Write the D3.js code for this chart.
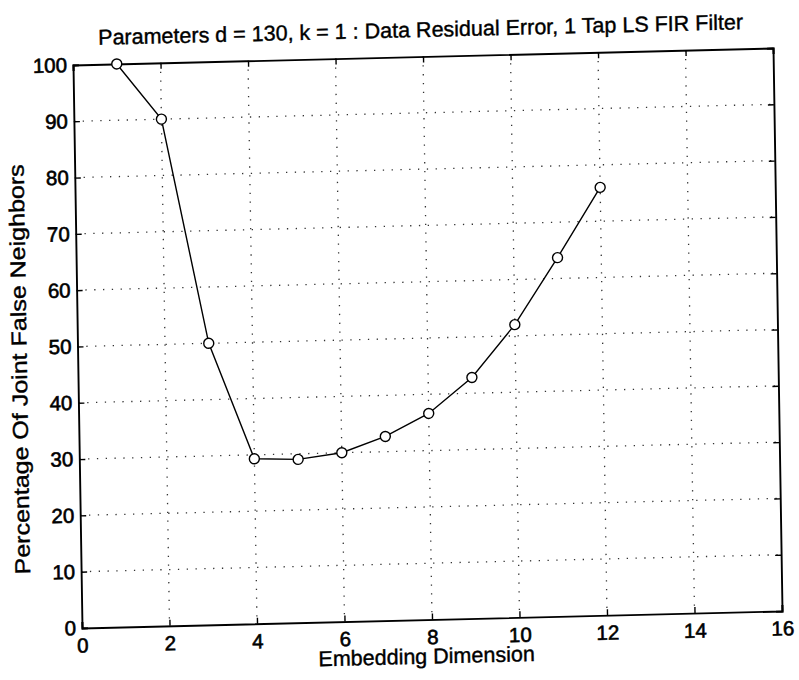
<!DOCTYPE html>
<html>
<head>
<meta charset="utf-8">
<script src="https://cdn.jsdelivr.net/npm/d3@7"></script>
<style>
  body { margin: 0; background: #fff; }
  text { font-family: "Liberation Sans", Arial, sans-serif; fill: #000; }
</style>
</head>
<body>
<div id="chart"></div>
<script>
// data
var dims = [1, 2, 3, 4, 5, 6, 7, 8, 9, 10, 11, 12];
var falseNeighbors = [100, 90, 50, 29.3, 29, 30, 32.7, 36.6, 42.8, 52, 63.7, 76];
var xTicks = [0, 2, 4, 6, 8, 10, 12, 14, 16];
var yTicks = [0, 10, 20, 30, 40, 50, 60, 70, 80, 90, 100];

var titleText = "Parameters d = 130, k = 1 : Data Residual Error, 1 Tap LS FIR Filter";
var xLabel = "Embedding Dimension";
var yLabel = "Percentage Of Joint False Neighbors";

// plot box
var margin = { top: 60, right: 19, bottom: 57, left: 80 },
    width = 799 - margin.left - margin.right,
    height = 680 - margin.top - margin.bottom;

var svg = d3.select("#chart")
    .append("svg")
    .attr("width", 799)
    .attr("height", 680);

// the scanned page sits a little crooked
var page = svg.append("g")
    .attr("transform", "matrix(1,-0.0243,0.016,1,-7.96,6.94)");

var g = page.append("g")
    .attr("transform", "translate(" + margin.left + "," + margin.top + ")");

var x = d3.scaleLinear().domain([0, 16]).range([0, width]);
var y = d3.scaleLinear().domain([0, 100]).range([height, 0]);

// dotted grid
g.selectAll(".vgrid")
    .data(xTicks.slice(1, -1))
    .enter()
    .append("line")
    .attr("x1", d => x(d)).attr("x2", d => x(d))
    .attr("y1", 0).attr("y2", height)
    .attr("stroke", "#333")
    .attr("stroke-width", 1.3)
    .attr("stroke-dasharray", "1.3,7.5");

g.selectAll(".hgrid")
    .data(yTicks.slice(1, -1))
    .enter()
    .append("line")
    .attr("x1", 0).attr("x2", width)
    .attr("y1", d => y(d)).attr("y2", d => y(d))
    .attr("stroke", "#333")
    .attr("stroke-width", 1.3)
    .attr("stroke-dasharray", "1.3,7.5");

// axes, ticks pointing inward on all four sides
var xBottom = d3.axisBottom(x).tickValues(xTicks).tickSize(-6).tickPadding(10).tickFormat(d3.format("d"));
var xTop = d3.axisTop(x).tickValues(xTicks).tickSize(-6).tickFormat("");
var yLeft = d3.axisLeft(y).tickValues(yTicks).tickSize(-6).tickPadding(6).tickFormat(d3.format("d"));
var yRight = d3.axisRight(y).tickValues(yTicks).tickSize(-6).tickFormat("");

g.append("g").attr("class", "axis").attr("transform", "translate(0," + height + ")").call(xBottom);
g.append("g").attr("class", "axis").call(xTop);
g.append("g").attr("class", "axis").call(yLeft);
g.append("g").attr("class", "axis").attr("transform", "translate(" + width + ",0)").call(yRight);

g.selectAll(".axis .domain").attr("stroke", "#000").attr("stroke-width", 1.9);
g.selectAll(".axis .tick line").attr("stroke", "#000").attr("stroke-width", 1.4);
g.selectAll(".axis text")
    .attr("font-size", "20.5px")
    .attr("font-family", "Liberation Sans, Arial, sans-serif")
    .attr("stroke", "#000")
    .attr("stroke-width", 0.6);

// data line with open circles
var line = d3.line()
    .x((d, i) => x(dims[i]))
    .y(d => y(d));

g.append("path")
    .datum(falseNeighbors)
    .attr("d", line)
    .attr("fill", "none")
    .attr("stroke", "#000")
    .attr("stroke-width", 1.4);

g.selectAll(".pt")
    .data(falseNeighbors)
    .enter()
    .append("circle")
    .attr("class", "pt")
    .attr("cx", (d, i) => x(dims[i]))
    .attr("cy", d => y(d))
    .attr("r", 5)
    .attr("fill", "#fff")
    .attr("stroke", "#000")
    .attr("stroke-width", 1.4);

// title and axis labels
page.append("text")
    .attr("x", 428)
    .attr("y", 40.5)
    .attr("text-anchor", "middle")
    .attr("font-size", "21.5px")
    .attr("stroke", "#000")
    .attr("stroke-width", 0.4)
    .text(titleText);

page.append("text")
    .attr("x", 424)
    .attr("y", 667)
    .attr("text-anchor", "middle")
    .attr("font-size", "21.5px")
    .attr("stroke", "#000")
    .attr("stroke-width", 0.4)
    .text(xLabel);

page.append("text")
    .attr("transform", "translate(29,363) rotate(-90)")
    .attr("text-anchor", "middle")
    .attr("font-size", "21.5px")
    .attr("textLength", 410)
    .attr("lengthAdjust", "spacingAndGlyphs")
    .attr("stroke", "#000")
    .attr("stroke-width", 0.4)
    .text(yLabel);
</script>
</body>
</html>
